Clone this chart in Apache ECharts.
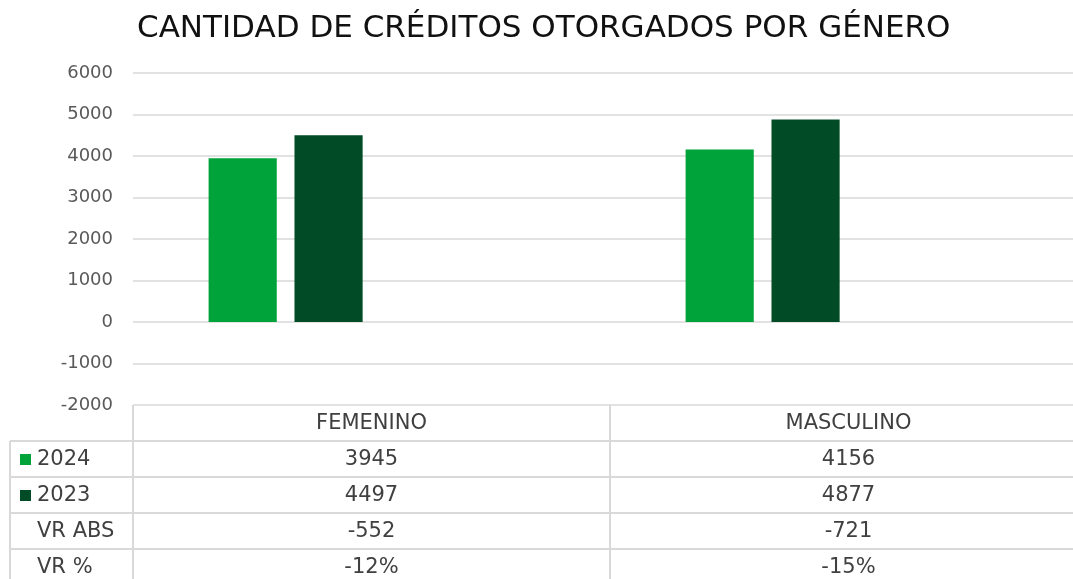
<!DOCTYPE html>
<html>
<head>
<meta charset="utf-8">
<script src="https://cdn.jsdelivr.net/npm/echarts@6/dist/echarts.min.js"></script>
<style>
html,body{margin:0;padding:0;background:#fff;}
#c{width:1073px;height:579px;}
</style>
</head>
<body>
<div id="c"></div>
<script>
// ---- data ----
const titleText = 'CANTIDAD DE CRÉDITOS OTORGADOS POR GÉNERO';
const categories = ['FEMENINO', 'MASCULINO'];
const seriesNames = ['2024', '2023', 'VR ABS', 'VR %'];
const v2024 = [3945, 4156];
const v2023 = [4497, 4877];
const vrAbs = [-552, -721];
const vrPct = [-0.12, -0.15];
const yMin = -2000, yMax = 6000, yStep = 1000;

const colors = ['#00A339', '#024B27'];
const FONT = 'DejaVu Sans';
const txtColor = '#404040';
const lineColor = '#d9d9d9';

const chart = echarts.init(document.getElementById('c'));
const option = {
  animation: false,
  backgroundColor: '#ffffff',
  title: {
    text: titleText, left: 132, top: 8,
    textStyle: {fontFamily: FONT, fontSize: 31, fontWeight: 'normal', color: '#111'}
  },
  grid: {left: 133, right: -14, top: 73, bottom: 174, containLabel: false, outerBoundsMode: 'none'},
  xAxis: {
    type: 'category', data: categories,
    axisLine: {show: false}, axisTick: {show: false},
    axisLabel: {fontFamily: FONT, fontSize: 21, color: txtColor, margin: 8}
  },
  yAxis: {
    type: 'value', min: yMin, max: yMax, interval: yStep,
    axisLine: {show: false}, axisTick: {show: false},
    axisLabel: {fontFamily: FONT, fontSize: 18, color: '#595959', margin: 20, formatter: v => String(v)},
    splitLine: {lineStyle: {color: lineColor, width: 1.5}}
  },
  series: [
    {name: seriesNames[0], type: 'bar', data: v2024, itemStyle: {color: colors[0]}, barGap: '26%', barCategoryGap: '31.7%'},
    {name: seriesNames[1], type: 'bar', data: v2023, itemStyle: {color: colors[1]}},
    {name: seriesNames[2], type: 'bar', data: vrAbs, itemStyle: {color: 'rgba(0,0,0,0)'}},
    {name: seriesNames[3], type: 'bar', data: vrPct, itemStyle: {color: 'rgba(0,0,0,0)'}}
  ]
};
chart.setOption(option);

// ---- data table under the axis, positioned from the chart's own scales ----
const cx = categories.map((c, i) => chart.convertToPixel({xAxisIndex: 0}, i));
const band = cx.length > 1 ? cx[1] - cx[0] : 400;
const tLeft = cx[0] - band / 2;
const tRight = cx[cx.length - 1] + band / 2;
const yTop = chart.convertToPixel({yAxisIndex: 0}, yMin);
const rowH = 36;
const outerLeft = 10;
const rows = [
  {label: seriesNames[0], vals: v2024.map(String), key: colors[0]},
  {label: seriesNames[1], vals: v2023.map(String), key: colors[1]},
  {label: seriesNames[2], vals: vrAbs.map(String)},
  {label: seriesNames[3], vals: vrPct.map(v => Math.round(v * 100) + '%')}
];
const g = [];
const bottom = yTop + rowH * (rows.length + 1);
const ls = {stroke: lineColor, lineWidth: 2};
// verticals
[tLeft].concat(cx.map(x => x + band / 2)).forEach(x => {
  g.push({type: 'line', shape: {x1: x, y1: yTop, x2: x, y2: bottom}, style: ls, silent: true});
});
g.push({type: 'line', shape: {x1: outerLeft, y1: yTop + rowH, x2: outerLeft, y2: bottom}, style: ls, silent: true});
rows.forEach((r, i) => {
  const y0 = yTop + rowH * (i + 1);
  const yc = y0 + rowH / 2;
  g.push({type: 'line', shape: {x1: outerLeft, y1: y0, x2: tRight, y2: y0}, style: ls, silent: true});
  if (r.key) {
    g.push({type: 'rect', shape: {x: 20, y: yc - 5, width: 11, height: 11}, style: {fill: r.key}, silent: true});
  }
  g.push({type: 'text', style: {x: 37, y: yc + 1, text: r.label, font: '21px "' + FONT + '"', fill: txtColor, textVerticalAlign: 'middle', verticalAlign: 'middle', textAlign: 'left', align: 'left'}, silent: true});
  r.vals.forEach((v, j) => {
    g.push({type: 'text', style: {x: cx[j], y: yc + 1, text: v, font: '21px "' + FONT + '"', fill: txtColor, textVerticalAlign: 'middle', verticalAlign: 'middle', textAlign: 'center', align: 'center'}, silent: true});
  });
});
chart.setOption({graphic: g});
</script>
</body>
</html>
